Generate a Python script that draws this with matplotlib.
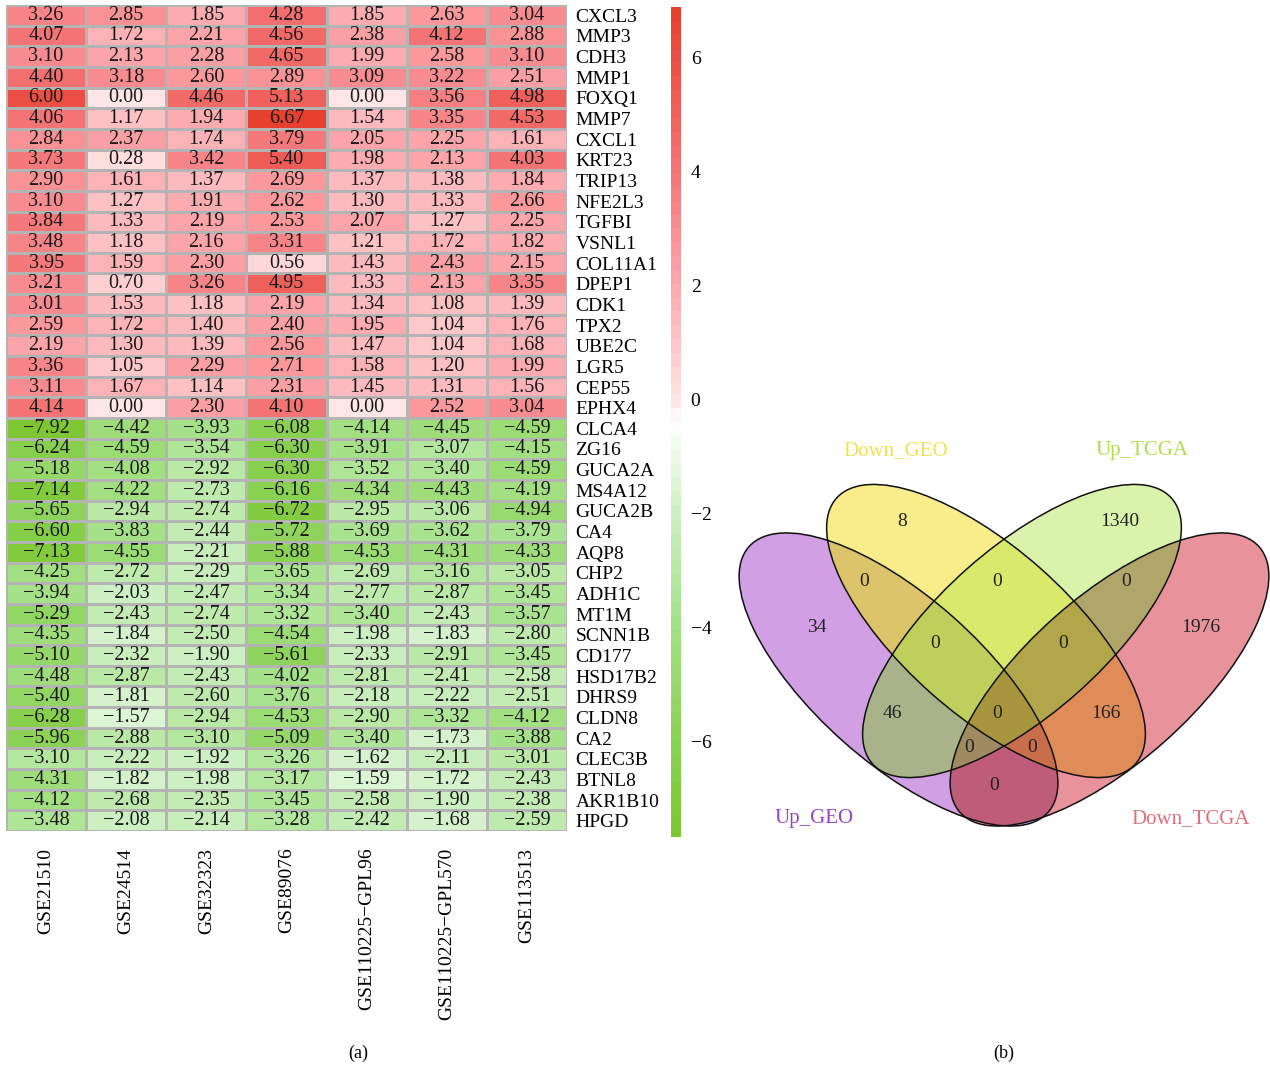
import numpy as np
import matplotlib
matplotlib.use('Agg')
import matplotlib.pyplot as plt
from matplotlib.colors import LinearSegmentedColormap, Normalize, to_rgba
from matplotlib.patches import Ellipse
import matplotlib.cm as cm

plt.rcParams['font.family'] = ['Liberation Serif', 'DejaVu Serif']

# kolumner i värmekartan
datasets = ['GSE21510', 'GSE24514', 'GSE32323', 'GSE89076',
            'GSE110225\u2212GPL96', 'GSE110225\u2212GPL570', 'GSE113513']

# uppreglerade gener (logFC)
up_genes = ['CXCL3', 'MMP3', 'CDH3', 'MMP1', 'FOXQ1', 'MMP7', 'CXCL1', 'KRT23',
            'TRIP13', 'NFE2L3', 'TGFBI', 'VSNL1', 'COL11A1', 'DPEP1', 'CDK1',
            'TPX2', 'UBE2C', 'LGR5', 'CEP55', 'EPHX4']
up_values = [
    [3.26, 2.85, 1.85, 4.28, 1.85, 2.63, 3.04],
    [4.07, 1.72, 2.21, 4.56, 2.38, 4.12, 2.88],
    [3.10, 2.13, 2.28, 4.65, 1.99, 2.58, 3.10],
    [4.40, 3.18, 2.60, 2.89, 3.09, 3.22, 2.51],
    [6.00, 0.00, 4.46, 5.13, 0.00, 3.56, 4.98],
    [4.06, 1.17, 1.94, 6.67, 1.54, 3.35, 4.53],
    [2.84, 2.37, 1.74, 3.79, 2.05, 2.25, 1.61],
    [3.73, 0.28, 3.42, 5.40, 1.98, 2.13, 4.03],
    [2.90, 1.61, 1.37, 2.69, 1.37, 1.38, 1.84],
    [3.10, 1.27, 1.91, 2.62, 1.30, 1.33, 2.66],
    [3.84, 1.33, 2.19, 2.53, 2.07, 1.27, 2.25],
    [3.48, 1.18, 2.16, 3.31, 1.21, 1.72, 1.82],
    [3.95, 1.59, 2.30, 0.56, 1.43, 2.43, 2.15],
    [3.21, 0.70, 3.26, 4.95, 1.33, 2.13, 3.35],
    [3.01, 1.53, 1.18, 2.19, 1.34, 1.08, 1.39],
    [2.59, 1.72, 1.40, 2.40, 1.95, 1.04, 1.76],
    [2.19, 1.30, 1.39, 2.56, 1.47, 1.04, 1.68],
    [3.36, 1.05, 2.29, 2.71, 1.58, 1.20, 1.99],
    [3.11, 1.67, 1.14, 2.31, 1.45, 1.31, 1.56],
    [4.14, 0.00, 2.30, 4.10, 0.00, 2.52, 3.04],
]

# nedreglerade gener (logFC)
down_genes = ['CLCA4', 'ZG16', 'GUCA2A', 'MS4A12', 'GUCA2B', 'CA4', 'AQP8', 'CHP2',
              'ADH1C', 'MT1M', 'SCNN1B', 'CD177', 'HSD17B2', 'DHRS9', 'CLDN8',
              'CA2', 'CLEC3B', 'BTNL8', 'AKR1B10', 'HPGD']
down_values = [
    [-7.92, -4.42, -3.93, -6.08, -4.14, -4.45, -4.59],
    [-6.24, -4.59, -3.54, -6.30, -3.91, -3.07, -4.15],
    [-5.18, -4.08, -2.92, -6.30, -3.52, -3.40, -4.59],
    [-7.14, -4.22, -2.73, -6.16, -4.34, -4.43, -4.19],
    [-5.65, -2.94, -2.74, -6.72, -2.95, -3.06, -4.94],
    [-6.60, -3.83, -2.44, -5.72, -3.69, -3.62, -3.79],
    [-7.13, -4.55, -2.21, -5.88, -4.53, -4.31, -4.33],
    [-4.25, -2.72, -2.29, -3.65, -2.69, -3.16, -3.05],
    [-3.94, -2.03, -2.47, -3.34, -2.77, -2.87, -3.45],
    [-5.29, -2.43, -2.74, -3.32, -3.40, -2.43, -3.57],
    [-4.35, -1.84, -2.50, -4.54, -1.98, -1.83, -2.80],
    [-5.10, -2.32, -1.90, -5.61, -2.33, -2.91, -3.45],
    [-4.48, -2.87, -2.43, -4.02, -2.81, -2.41, -2.58],
    [-5.40, -1.81, -2.60, -3.76, -2.18, -2.22, -2.51],
    [-6.28, -1.57, -2.94, -4.53, -2.90, -3.32, -4.12],
    [-5.96, -2.88, -3.10, -5.09, -3.40, -1.73, -3.88],
    [-3.10, -2.22, -1.92, -3.26, -1.62, -2.11, -3.01],
    [-4.31, -1.82, -1.98, -3.17, -1.59, -1.72, -2.43],
    [-4.12, -2.68, -2.35, -3.45, -2.58, -1.90, -2.38],
    [-3.48, -2.08, -2.14, -3.28, -2.42, -1.68, -2.59],
]

# venn: mängder och antal per region
set_names = ['Up_GEO', 'Down_GEO', 'Up_TCGA', 'Down_TCGA']
label_colors = ['#9B3FC6', '#F2E04E', '#B0DC4C', '#E0707C']
region_counts = [34, 8, 1340, 1976, 0, 0, 0, 0, 0, 46, 0, 166, 0, 0, 0]

# färg per region (bitar: Up_GEO=1, Down_GEO=2, Up_TCGA=4, Down_TCGA=8)
region_colors = {1: '#D09FE4', 2: '#F9EC8A', 4: '#DAF3AA', 8: '#E8939B',
                 3: '#DCC46A', 6: '#D8E96C', 12: '#B0A66A', 5: '#A8B38A',
                 10: '#E08C58', 9: '#BE5C7A', 7: '#BFCF5C', 14: '#B2A64A',
                 13: '#A08A60', 11: '#C86E4B', 15: '#A8963F'}

W, H = 1270, 1066
fig = plt.figure(figsize=(W / 100, H / 100), dpi=100)

# ---- (b) venn, ritas i pixelkoordinater ----
axv = fig.add_axes([0, 0, 1, 1])
axv.set_xlim(0, W)
axv.set_ylim(H, 0)
axv.axis('off')

ell_centers = [(898.5, 679.5), (986, 631), (1022, 631), (1109.5, 679.5)]
ell_angles = [41.6, 41.6, -41.6, -41.6]
ea, eb = 200, 83

# fyll regionerna med ett rutnät av medlemskap
gx = np.arange(720, 1275) + 0.5
gy = np.arange(470, 840) + 0.5
X, Y = np.meshgrid(gx, gy)
code = np.zeros(X.shape, dtype=int)
for k, ((cx, cy), ang) in enumerate(zip(ell_centers, ell_angles)):
    t = np.deg2rad(ang)
    u = (X - cx) * np.cos(t) + (Y - cy) * np.sin(t)
    v = -(X - cx) * np.sin(t) + (Y - cy) * np.cos(t)
    code += ((u / ea) ** 2 + (v / eb) ** 2 <= 1).astype(int) << k
lut = np.zeros((16, 4))
for c, col in region_colors.items():
    lut[c] = to_rgba(col)
axv.imshow(lut[code], extent=(720, 1275, 840, 470), origin='upper',
           interpolation='nearest', aspect='auto')
axv.set_xlim(0, W)
axv.set_ylim(H, 0)

for (cx, cy), ang in zip(ell_centers, ell_angles):
    axv.add_patch(Ellipse((cx, cy), 2 * ea, 2 * eb, angle=ang, facecolor='none',
                          edgecolor='#111111', linewidth=1.1))

region_pos = [(817, 628), (902, 521), (1120, 521), (1201, 628),
              (864, 582), (997, 582), (1126, 582),
              (935, 644), (1063, 644),
              (892, 713), (997, 713), (1106, 713),
              (969, 748), (1032, 748), (994, 786)]
for (x, y), n in zip(region_pos, region_counts):
    axv.text(x, y, str(n), ha='center', va='center', fontsize=14, color='#222222')

label_pos = [(814, 819), (896, 451), (1142, 451), (1191, 819)]
for (x, y), name, col in zip(label_pos, set_names, label_colors):
    axv.text(x, y, name, ha='center', va='center', fontsize=15, color=col)

# ---- (a) värmekarta ----
genes = up_genes + down_genes
vals = np.array(up_values + down_values)

vmin, vmax = -7.68, 6.88
stops = [(vmin, '#7DC832'), (-6, '#8AD255'), (-4, '#A5E187'), (-2, '#CDF0C3'),
         (-0.4, '#FFFFFF'), (0, '#FFE4E4'), (2, '#FCAAAF'), (4, '#F57678'),
         (vmax, '#E8402F')]
cmap = LinearSegmentedColormap.from_list(
    'lfc', [((s - vmin) / (vmax - vmin), c) for s, c in stops], N=60)
norm = Normalize(vmin=vmin, vmax=vmax)

x0, x1, y0, y1 = 6, 567, 5, 831
ax = fig.add_axes([x0 / W, 1 - y1 / H, (x1 - x0) / W, (y1 - y0) / H])
ax.pcolormesh(np.arange(len(datasets) + 1), np.arange(len(genes) + 1), vals,
              cmap=cmap, norm=norm, edgecolors='#B4B4B4', linewidth=1)
ax.set_xlim(0, len(datasets))
ax.set_ylim(len(genes), 0)
for sp in ax.spines.values():
    sp.set_visible(False)

for i in range(len(genes)):
    for j in range(len(datasets)):
        txt = '%.2f' % vals[i, j]
        ax.text(j + 0.5, i + 0.5, txt.replace('-', '\u2212'), ha='center', va='center',
                fontsize=14.5, color='#1a1a1a')

ax.set_yticks(np.arange(len(genes)) + 0.5)
ax.set_yticklabels(genes, fontsize=14)
ax.yaxis.tick_right()
ax.set_xticks(np.arange(len(datasets)) + 0.5)
ax.set_xticklabels(datasets, rotation=90, fontsize=14)
ax.tick_params(axis='y', length=0, pad=6)
ax.tick_params(axis='x', length=0, pad=12)

# färgskala
cax = fig.add_axes([671 / W, 1 - 837 / H, 10 / W, 830 / H])
cb = fig.colorbar(cm.ScalarMappable(norm=norm, cmap=cmap), cax=cax)
cb.outline.set_visible(False)
cb.set_ticks([-6, -4, -2, 0, 2, 4, 6])
cb.ax.tick_params(length=0, pad=7, labelsize=14)

fig.text(358 / W, 1 - 1053 / H, '(a)', ha='center', va='center', fontsize=13)
fig.text(1004 / W, 1 - 1053 / H, '(b)', ha='center', va='center', fontsize=13)

fig.savefig('out.png', dpi=100)
